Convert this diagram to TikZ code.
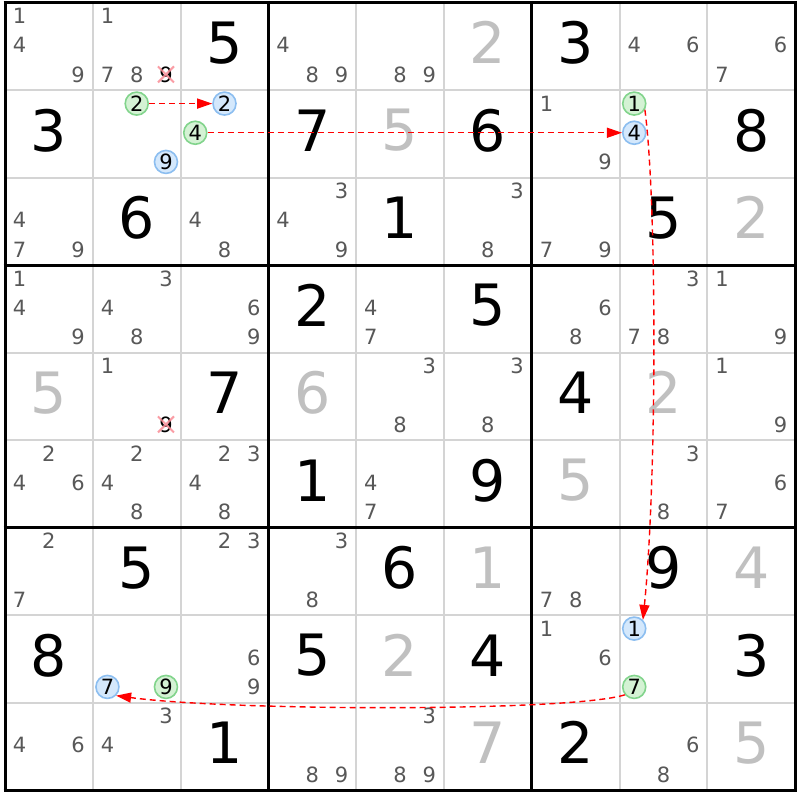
\documentclass[tikz,border=0pt]{standalone}
\usepackage{fontspec}
\setmainfont{DejaVu Sans}
\usetikzlibrary{arrows.meta}
\definecolor{candc}{RGB}{88,88,88}
\definecolor{solvc}{RGB}{192,192,192}
\definecolor{gridc}{RGB}{212,212,212}
\definecolor{gfill}{RGB}{212,242,212}
\definecolor{gline}{RGB}{130,212,140}
\definecolor{bfill}{RGB}{212,232,252}
\definecolor{bline}{RGB}{140,190,240}
\definecolor{linkc}{RGB}{255,0,0}
\definecolor{crossc}{RGB}{250,140,150}
\newcommand\cpos[3]{%
 \pgfmathsetmacro\px{5+87.8*(#2-1)+87.8*(2*mod(#3-1,3)+1)/6}%
 \pgfmathsetmacro\py{2.5+87.5*(#1-1)+87.5*(2*floor((#3-1)/3)+1)/6-1}}
\newcommand\cand[3]{\cpos{#1}{#2}{#3}\node[cand] (k#1#2#3) at (\px,\py) {#3};}
\newcommand\cands[3]{\foreach \d in {#3}{\edef\tmp{\noexpand\cand{#1}{#2}{\d}}\tmp}}
\newcommand\xcand[3]{\cpos{#1}{#2}{#3}\node[cand,text=black] (x#1#2) at (\px,\py) {#3};
 \draw[crossline] (x#1#2.center) ++(-8,-8) -- ++(16,16) ++(0,-16) -- ++(-16,16);}
\newcommand\ccand[5]{\cpos{#2}{#3}{#4}\node[#1] (#5) at (\px,\py) {#4};}
\newcommand\given[3]{\node[given] (v#1#2) at ({5+87.8*(#2-0.5)},{2.5+87.5*(#1-0.5)-3.5}) {#3};}
\newcommand\solved[3]{\node[solved] (v#1#2) at ({5+87.8*(#2-0.5)},{2.5+87.5*(#1-0.5)-3.5}) {#3};}
\begin{document}
\begin{tikzpicture}[x=1pt,y=-1pt,
  cand/.style={inner sep=0pt,text=candc,font=\fontsize{21}{23}\selectfont},
  big/.style={inner sep=0pt,font=\fontsize{57}{60}\selectfont},
  given/.style={big,text=black},
  solved/.style={big,text=solvc},
  gc/.style={circle,draw=gline,fill=gfill,line width=1.6pt,minimum size=23pt,inner sep=0pt,text=black,font=\fontsize{21}{23}\selectfont},
  bc/.style={gc,draw=bline,fill=bfill},
  crossline/.style={draw=crossc,line width=2pt,opacity=0.85},
  link/.style={draw=linkc,dash pattern=on 6pt off 4pt,line width=1.4pt,-{Triangle[length=15pt,width=10pt]}},
  thinl/.style={draw=gridc,line width=2pt},
  thickl/.style={draw=black,line width=3pt}]
\useasboundingbox (0,0) rectangle (800,800);
\fill[white] (0,0) rectangle (800,800);
% grid
\foreach \i in {1,2,4,5,7,8}{
  \draw[thinl] ({5+87.8*\i},2.5) -- ({5+87.8*\i},790);
  \draw[thinl] (5,{2.5+87.5*\i}) -- (795,{2.5+87.5*\i});
}
\foreach \i in {0,3,6,9}{
  \draw[thickl] ({5+87.8*\i},1) -- ({5+87.8*\i},791.5);
  \draw[thickl] (3.5,{2.5+87.5*\i}) -- (796.5,{2.5+87.5*\i});
}
% row 1
\cands{1}{1}{1,4,9}
\cands{1}{2}{1,7,8}\xcand{1}{2}{9}
\given{1}{3}{5}
\cands{1}{4}{4,8,9}
\cands{1}{5}{8,9}
\solved{1}{6}{2}
\given{1}{7}{3}
\cands{1}{8}{4,6}
\cands{1}{9}{6,7}
% row 2
\given{2}{1}{3}
\ccand{gc}{2}{2}{2}{gA}
\ccand{bc}{2}{2}{9}{bX}
\ccand{bc}{2}{3}{2}{bA}
\ccand{gc}{2}{3}{4}{gB}
\given{2}{4}{7}
\solved{2}{5}{5}
\given{2}{6}{6}
\cands{2}{7}{1,9}
\ccand{gc}{2}{8}{1}{gC}
\ccand{bc}{2}{8}{4}{bB}
\given{2}{9}{8}
% row 3
\cands{3}{1}{4,7,9}
\given{3}{2}{6}
\cands{3}{3}{4,8}
\cands{3}{4}{3,4,9}
\given{3}{5}{1}
\cands{3}{6}{3,8}
\cands{3}{7}{7,9}
\given{3}{8}{5}
\solved{3}{9}{2}
% row 4
\cands{4}{1}{1,4,9}
\cands{4}{2}{3,4,8}
\cands{4}{3}{6,9}
\given{4}{4}{2}
\cands{4}{5}{4,7}
\given{4}{6}{5}
\cands{4}{7}{6,8}
\cands{4}{8}{3,7,8}
\cands{4}{9}{1,9}
% row 5
\solved{5}{1}{5}
\cand{5}{2}{1}\xcand{5}{2}{9}
\given{5}{3}{7}
\solved{5}{4}{6}
\cands{5}{5}{3,8}
\cands{5}{6}{3,8}
\given{5}{7}{4}
\solved{5}{8}{2}
\cands{5}{9}{1,9}
% row 6
\cands{6}{1}{2,4,6}
\cands{6}{2}{2,4,8}
\cands{6}{3}{2,3,4,8}
\given{6}{4}{1}
\cands{6}{5}{4,7}
\given{6}{6}{9}
\solved{6}{7}{5}
\cands{6}{8}{3,8}
\cands{6}{9}{6,7}
% row 7
\cands{7}{1}{2,7}
\given{7}{2}{5}
\cands{7}{3}{2,3}
\cands{7}{4}{3,8}
\given{7}{5}{6}
\solved{7}{6}{1}
\cands{7}{7}{7,8}
\given{7}{8}{9}
\solved{7}{9}{4}
% row 8
\given{8}{1}{8}
\ccand{bc}{8}{2}{7}{bD}
\ccand{gc}{8}{2}{9}{gX}
\cands{8}{3}{6,9}
\given{8}{4}{5}
\solved{8}{5}{2}
\given{8}{6}{4}
\cands{8}{7}{1,6}
\ccand{bc}{8}{8}{1}{bC}
\ccand{gc}{8}{8}{7}{gD}
\given{8}{9}{3}
% row 9
\cands{9}{1}{4,6}
\cands{9}{2}{3,4}
\given{9}{3}{1}
\cands{9}{4}{8,9}
\cands{9}{5}{3,8,9}
\solved{9}{6}{7}
\given{9}{7}{2}
\cands{9}{8}{6,8}
\solved{9}{9}{5}
% links
\draw[link] (gA.east) -- (bA.west);
\draw[link] (gB.east) -- (bB.west);
\draw[link] (gC.-30) .. controls (657,200) and (657,480) .. (bC.45);
\draw[link] (gD.220) .. controls (570,712) and (230,711) .. (bD.-45);
\end{tikzpicture}
\end{document}
